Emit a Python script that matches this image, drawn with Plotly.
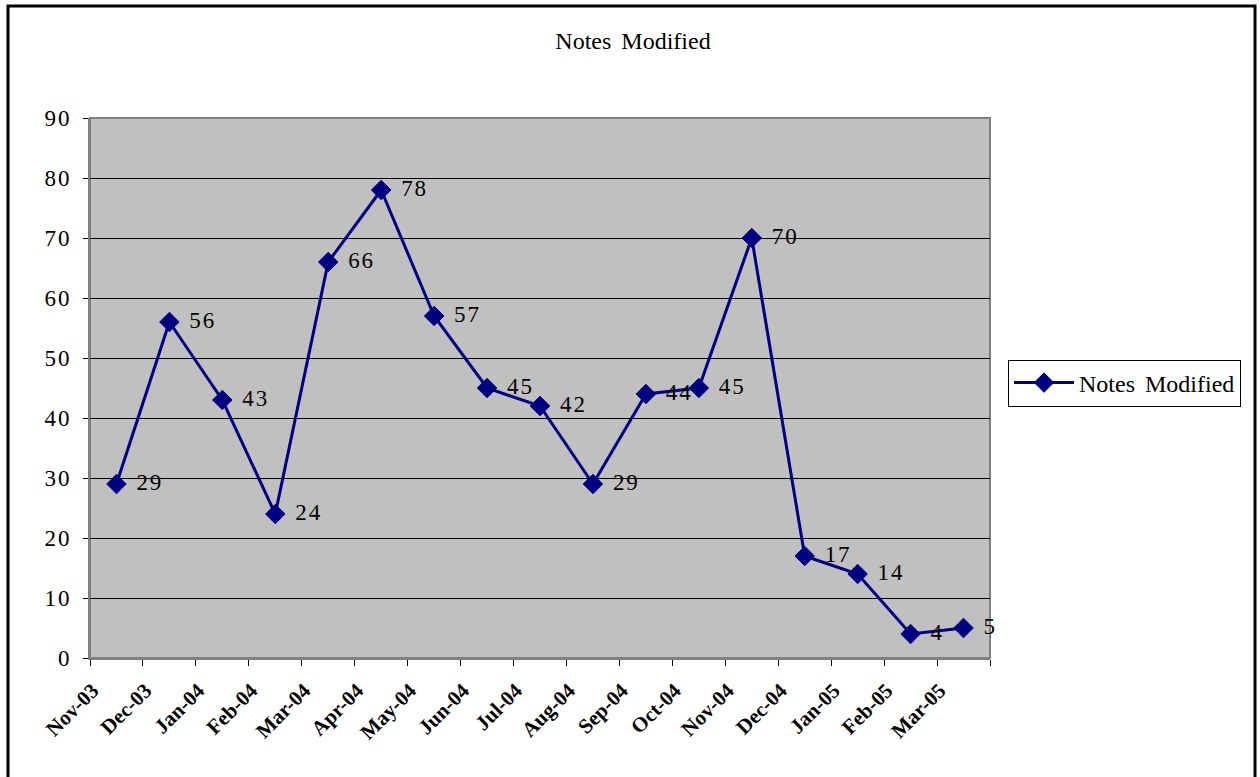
import plotly.graph_objects as go

# Monthly counts of modified notes
months = ["Nov-03", "Dec-03", "Jan-04", "Feb-04", "Mar-04", "Apr-04", "May-04",
          "Jun-04", "Jul-04", "Aug-04", "Sep-04", "Oct-04", "Nov-04", "Dec-04",
          "Jan-05", "Feb-05", "Mar-05"]
notes_modified = [29, 56, 43, 24, 66, 78, 57, 45, 42, 29, 44, 45, 70, 17, 14, 4, 5]
y_ticks = [0, 10, 20, 30, 40, 50, 60, 70, 80, 90]

NAVY = "#000080"
SERIF = "Liberation Serif, Times New Roman, serif"
HAIR = "\u200a"

W, H = 1260, 777
L, R, T, B = 90, 270, 118, 119


def px_to_paper(px, py):
    pw, ph = W - L - R, H - T - B
    return (px - L) / pw, (H - B - py) / ph


def spaced(s):
    # slightly open tracking for numeric labels
    return HAIR.join(str(s))


fig = go.Figure()
fig.add_trace(go.Scatter(
    x=months,
    y=notes_modified,
    mode="lines+markers+text",
    name="Notes" + HAIR + HAIR + " Modified",
    line=dict(color=NAVY, width=3),
    marker=dict(symbol="diamond", size=15, color=NAVY, line=dict(color=NAVY, width=1)),
    text=[" " + HAIR + HAIR + spaced(v) for v in notes_modified],
    textposition="middle right",
    textfont=dict(family=SERIF, size=23, color="black"),
    cliponaxis=False,
))

# Outer chart frame
x0, y0 = px_to_paper(8, 6)
x1, y1 = px_to_paper(1255, 790)
fig.add_shape(type="rect", xref="paper", yref="paper", x0=x0, y0=y1, x1=x1, y1=y0,
              line=dict(color="black", width=3), fillcolor="rgba(0,0,0,0)", layer="above")
# Plot area border
fig.add_shape(type="rect", xref="paper", yref="paper", x0=0, y0=0, x1=1, y1=1,
              line=dict(color="#808080", width=2), layer="below")

fig.update_layout(
    width=W, height=H,
    margin=dict(l=L, r=R, t=T, b=B),
    paper_bgcolor="white",
    plot_bgcolor="#C0C0C0",
    title=dict(text="Notes" + HAIR + HAIR + " Modified", x=633 / W, xanchor="center",
               y=1 - 41 / H, yanchor="middle",
               font=dict(family=SERIF, size=24, color="black")),
    showlegend=True,
    legend=dict(
        x=px_to_paper(1008, 0)[0], xanchor="left",
        y=px_to_paper(0, 383)[1], yanchor="middle",
        bordercolor="black", borderwidth=1, bgcolor="white",
        font=dict(family=SERIF, size=24, color="black"),
        itemwidth=60,
    ),
    xaxis=dict(
        type="category",
        categoryorder="array", categoryarray=months,
        range=[-0.5, len(months) - 0.5],
        tickson="boundaries",
        ticks="outside", ticklen=6, tickcolor="black", tickwidth=1,
        tickangle=-45,
        tickfont=dict(family=SERIF, size=21, color="black", weight="bold"),
        ticklabelshift=-24,
        ticklabelstandoff=10,
        showgrid=False,
        showline=True, linecolor="#808080", linewidth=2,
        zeroline=False,
    ),
    yaxis=dict(
        range=[0, 90],
        tickvals=y_ticks,
        ticktext=[spaced(v) for v in y_ticks],
        ticks="outside", ticklen=5, tickcolor="black", tickwidth=1,
        tickfont=dict(family=SERIF, size=23, color="black"),
        ticklabelstandoff=9,
        showgrid=True, gridcolor="black", gridwidth=1,
        showline=True, linecolor="#808080", linewidth=2,
        zeroline=False,
    ),
)

fig.write_html("out.html")
